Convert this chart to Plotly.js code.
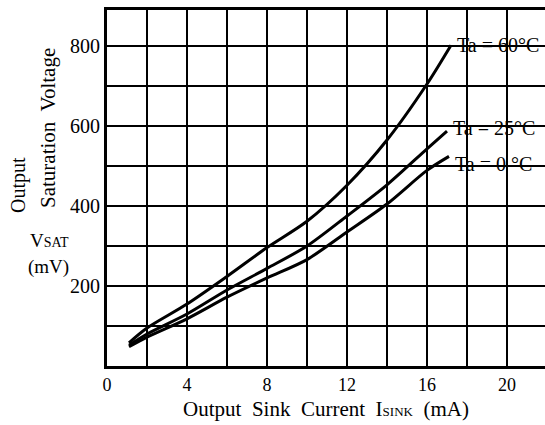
<!DOCTYPE html>
<html>
<head>
<meta charset="utf-8">
<script src="https://cdn.plot.ly/plotly-3.0.1.min.js"></script>
<style>html,body{margin:0;padding:0;background:#fff;}#chart{width:545px;height:425px;}</style>
</head>
<body>
<div id="chart"></div>
<script>
// Output sink current (mA) and saturation voltage (mV) per ambient temperature
const current60 = [1.1, 2, 4, 6, 8, 10, 12, 14, 16, 17.2];
const vsat60    = [58, 95, 155, 224, 296, 362, 452, 565, 705, 802];
const current25 = [1.1, 2, 4, 6, 8, 10, 12, 14, 16, 17.0];
const vsat25    = [52, 80, 130, 190, 244, 300, 375, 453, 543, 587];
const current0  = [1.1, 2, 4, 6, 8, 10, 12, 14, 16, 17.1];
const vsat0     = [48, 72, 118, 172, 220, 266, 335, 405, 489, 524];
const seriesLabels = ["Ta = 60°C", "Ta = 25°C", "Ta = 0 °C"];
const xGridVals = [0, 2, 4, 6, 8, 10, 12, 14, 16, 18, 20];
const xTickText = ["0", "", "4", "", "8", "", "12", "", "16", "", "20"];
const yGridVals = [100, 200, 300, 400, 500, 600, 700, 800];
const yTickText = ["", "200", "", "400", "", "600", "", "800"];

const serif = "Liberation Serif, Times New Roman, serif";
const lineStyle = {color: "#000", width: 3, shape: "spline", smoothing: 0.8};

const traces = [
  {x: current60, y: vsat60, mode: "lines", line: lineStyle, name: seriesLabels[0], hoverinfo: "x+y"},
  {x: current25, y: vsat25, mode: "lines", line: lineStyle, name: seriesLabels[1], hoverinfo: "x+y"},
  {x: current0,  y: vsat0,  mode: "lines", line: lineStyle, name: seriesLabels[2], hoverinfo: "x+y"}
];

const endLabel = (xs, ys, text, dy) => ({
  x: xs[xs.length - 1] + 0.2, y: ys[ys.length - 1] + dy, xref: "x", yref: "y",
  text: text, showarrow: false, xanchor: "left", yanchor: "middle",
  font: {family: serif, size: 20, color: "#000"}
});

const layout = {
  width: 545, height: 425,
  margin: {l: 107, r: 0, t: 10, b: 59},
  paper_bgcolor: "#fff", plot_bgcolor: "#fff",
  showlegend: false,
  font: {family: serif, color: "#000", size: 16},
  xaxis: {
    range: [0, 21.9], tickvals: xGridVals, ticktext: xTickText,
    showgrid: true, gridcolor: "#000", gridwidth: 1.6,
    showline: true, linecolor: "#000", linewidth: 3, mirror: true,
    ticks: "", zeroline: false,
    tickfont: {family: serif, size: 18, color: "#000"},
    title: {text: "Output  Sink  Current  I<span style='font-size:13px'>SINK</span>  (mA)", font: {family: serif, size: 21, color: "#000"}, standoff: 8}
  },
  yaxis: {
    range: [0, 890], tickvals: yGridVals, ticktext: yTickText,
    showgrid: true, gridcolor: "#000", gridwidth: 1.6,
    showline: true, linecolor: "#000", linewidth: 3, mirror: false,
    ticks: "", ticklabelstandoff: 0,
    zeroline: false,
    tickfont: {family: serif, size: 20, color: "#000"}
  },
  annotations: [
    endLabel(current60, vsat60, seriesLabels[0], 0),
    endLabel(current25, vsat25, seriesLabels[1], 8),
    endLabel(current0, vsat0, seriesLabels[2], -20),
    {xref: "paper", yref: "paper", x: (18 - 107) / 438, y: (366 - 185) / 356, text: "Output", textangle: -90,
     showarrow: false, xanchor: "center", yanchor: "middle", font: {family: serif, size: 20, color: "#000"}},
    {xref: "paper", yref: "paper", x: (48 - 107) / 438, y: (366 - 128) / 356, text: "Saturation  Voltage", textangle: -90,
     showarrow: false, xanchor: "center", yanchor: "middle", font: {family: serif, size: 21, color: "#000"}},
    {xref: "paper", yref: "paper", x: (49 - 107) / 438, y: (366 - 240) / 356, text: "V<span style='font-size:14px'>SAT</span>",
     showarrow: false, xanchor: "center", yanchor: "middle", font: {family: serif, size: 19, color: "#000"}},
    {xref: "paper", yref: "paper", x: (48 - 107) / 438, y: (366 - 267) / 356, text: "(mV)",
     showarrow: false, xanchor: "center", yanchor: "middle", font: {family: serif, size: 19, color: "#000"}}
  ]
};

Plotly.newPlot("chart", traces, layout, {displayModeBar: false, staticPlot: true});
</script>
</body>
</html>
